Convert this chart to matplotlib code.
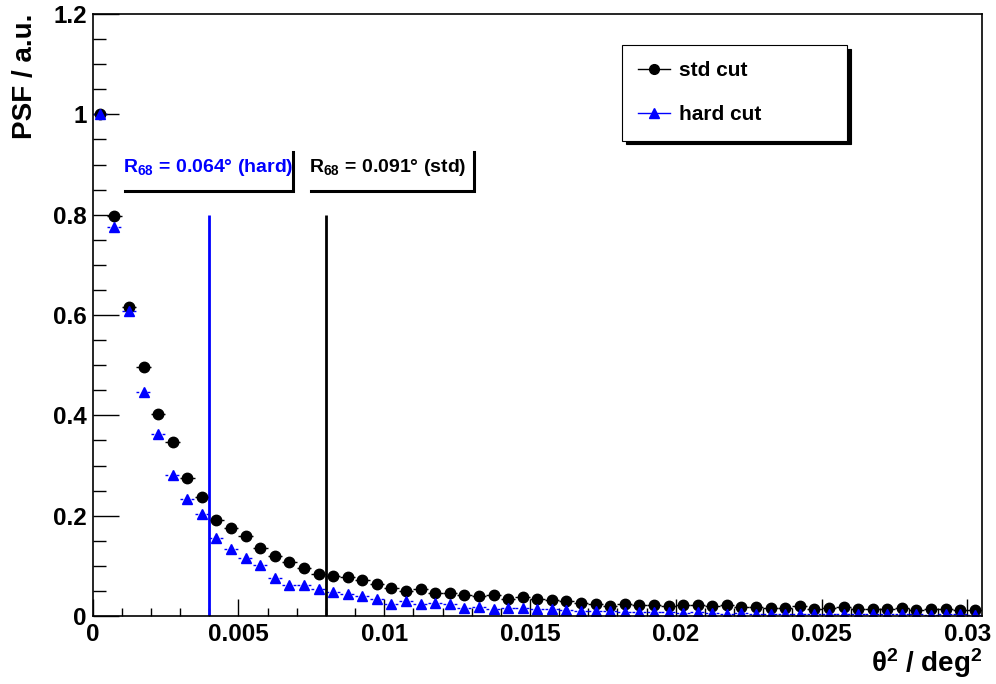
import numpy as np
import matplotlib
matplotlib.use('Agg')
import matplotlib.pyplot as plt
from matplotlib.lines import Line2D
from matplotlib.ticker import MultipleLocator, FuncFormatter

plt.rcParams['font.family'] = ['Liberation Sans', 'DejaVu Sans']
plt.rcParams['font.weight'] = 'bold'
plt.rcParams['mathtext.fontset'] = 'custom'
plt.rcParams['mathtext.rm'] = 'Liberation Sans:bold'
plt.rcParams['mathtext.bf'] = 'Liberation Sans:bold'
plt.rcParams['mathtext.it'] = 'Liberation Sans:bold'
plt.rcParams['mathtext.default'] = 'rm'

#### histogram binning in theta^2 (deg^2)
bin_width = 0.0005
n_bins = 61
theta2 = np.arange(n_bins) * bin_width + bin_width / 2

#### PSF values (normalised to first bin)
psf_std = [1.000, 0.798, 0.615, 0.496, 0.403, 0.347, 0.275, 0.237, 0.192, 0.175,
           0.160, 0.136, 0.120, 0.108, 0.096, 0.083, 0.080, 0.078, 0.072, 0.063,
           0.055, 0.050, 0.053, 0.046, 0.045, 0.042, 0.039, 0.041, 0.033, 0.037,
           0.034, 0.032, 0.029, 0.025, 0.023, 0.020, 0.023, 0.021, 0.021, 0.019,
           0.022, 0.022, 0.019, 0.022, 0.017, 0.017, 0.016, 0.016, 0.020, 0.013,
           0.016, 0.017, 0.014, 0.013, 0.014, 0.015, 0.011, 0.013, 0.014, 0.011,
           0.011]
psf_hard = [1.000, 0.776, 0.609, 0.446, 0.362, 0.282, 0.233, 0.204, 0.155, 0.134,
            0.116, 0.102, 0.075, 0.062, 0.062, 0.053, 0.047, 0.043, 0.040, 0.034,
            0.024, 0.029, 0.023, 0.025, 0.023, 0.016, 0.017, 0.013, 0.015, 0.015,
            0.013, 0.014, 0.012, 0.010, 0.009, 0.009, 0.007, 0.007, 0.007, 0.007,
            0.006, 0.007, 0.006, 0.005, 0.006, 0.004, 0.004, 0.005, 0.005, 0.005,
            0.004, 0.005, 0.005, 0.004, 0.004, 0.004, 0.004, 0.003, 0.004, 0.004,
            0.003]

labels = ['std cut', 'hard cut']
r68_text = ['R$_{68}$ = 0.064° (hard)', 'R$_{68}$ = 0.091° (std)']
r68_line_pos = [0.004, 0.008]   # theta^2 where the 68% containment lines are drawn
r68_line_top = 0.8

fig = plt.figure(figsize=(9.96, 6.84), dpi=100)
ax = fig.add_axes([0.0929, 0.0994, 0.8931, 0.8801])

eb_std = ax.errorbar(theta2, psf_std, xerr=bin_width / 2, fmt='o', color='black',
                     ms=7.5, elinewidth=1, capsize=0)
eb_hard = ax.errorbar(theta2, psf_hard, xerr=bin_width / 2, fmt='^', color='blue',
                      ms=7.5, elinewidth=1, capsize=0)
eb_hard[2][0].set_linestyle((0, (2, 2)))

#### R68 lines
ax.vlines(r68_line_pos[0], 0, r68_line_top, color='blue', lw=2)
ax.vlines(r68_line_pos[1], 0, r68_line_top, color='black', lw=2)

#### R68 labels with ROOT-style shadow (bottom + right edge)
boxes = [(0.00104, 0.00111, 0.00687, 'blue'), (0.00742, 0.00749, 0.01307, 'black')]
for (tx, bx0, bx1, col), txt in zip(boxes, r68_text):
    ax.text(tx, 0.886, txt, color=col, fontsize=14, fontweight='bold', va='baseline')
    ax.plot([bx0, bx1, bx1], [0.8467, 0.8467, 0.924], color='black', lw=2.2,
            solid_joinstyle='miter', clip_on=False)

ax.set_xlim(0, 0.0305)
ax.set_ylim(0, 1.2)
ax.xaxis.set_major_locator(MultipleLocator(0.005))
ax.xaxis.set_minor_locator(MultipleLocator(0.001))
ax.yaxis.set_major_locator(MultipleLocator(0.2))
ax.yaxis.set_minor_locator(MultipleLocator(0.05))
fmt = FuncFormatter(lambda v, p: '%g' % round(v, 6))
ax.xaxis.set_major_formatter(fmt)
ax.yaxis.set_major_formatter(fmt)
ax.tick_params(which='both', direction='in', top=False, right=False, width=1, labelsize=17.5)
ax.tick_params(axis='x', which='major', length=12, pad=5)
ax.tick_params(axis='x', which='minor', length=6)
ax.tick_params(axis='y', which='major', length=18.5, pad=4)
ax.tick_params(axis='y', which='minor', length=9.5)
for s in ax.spines.values():
    s.set_linewidth(1.2)

ax.set_ylabel('PSF / a.u.', fontsize=20, fontweight='bold', loc='top')
ax.yaxis.set_label_coords(-0.061, 1.0)
ax.set_xlabel('θ$^{2}$ / deg$^{2}$', fontsize=20, fontweight='bold', loc='right')
ax.xaxis.set_label_coords(1.0, -0.05)

handles = [Line2D([], [], color='black', marker='o', ms=7, lw=1),
           Line2D([], [], color='blue', marker='^', ms=7, lw=1)]
ax.legend(handles, labels, loc='upper left', mode='expand',
          bbox_to_anchor=(0.6245, 0.7997, 0.2259, 0.1345), bbox_transform=fig.transFigure,
          borderaxespad=0, fancybox=False, edgecolor='black', framealpha=1, fontsize=15,
          handlelength=1.5, handletextpad=0.45, labelspacing=1.2, borderpad=0.78,
          shadow={'ox': 2.6, 'oy': -2.6, 'facecolor': 'black', 'edgecolor': 'black', 'alpha': 1})
ax.get_legend().get_frame().set_linewidth(0.8)

fig.savefig('out.png', dpi=100)
